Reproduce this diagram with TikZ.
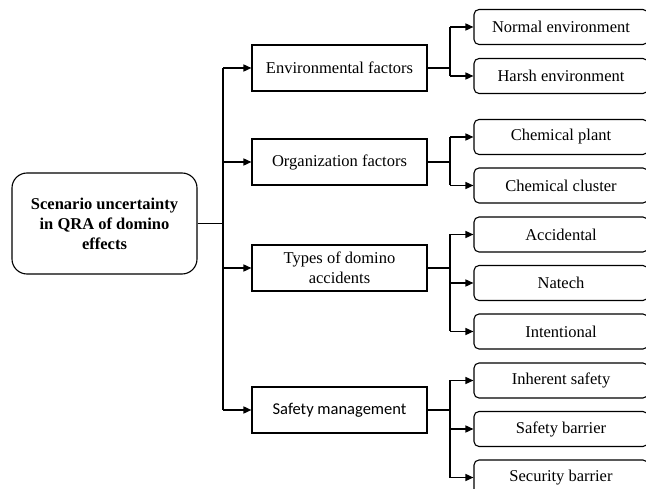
\documentclass[tikz,border=0pt]{standalone}
\usepackage{fontspec}
\setmainfont{Liberation Serif}
\newfontfamily\calibri{Carlito}
\usetikzlibrary{arrows.meta}
\tikzstyle{rootbox}=[draw,rounded corners=15pt,line width=1.1pt,minimum width=185pt,minimum height=101pt,align=center,font=\fontsize{16.5}{20}\selectfont\bfseries]
\tikzstyle{factor}=[draw,line width=1.1pt,minimum width=175pt,minimum height=46pt,align=center,font=\fontsize{16.5}{20}\selectfont]
\tikzstyle{leaf}=[draw,rounded corners=5pt,line width=1.1pt,minimum width=174pt,minimum height=35pt,font=\fontsize{16.5}{20}\selectfont]
\tikzstyle{link}=[line width=1.5pt]
\tikzstyle{arr}=[line width=1.5pt,-{Triangle[length=8pt,width=7pt]}]

\begin{document}
\begin{tikzpicture}[x=1pt,y=-1pt]
    \useasboundingbox (0,0) rectangle (646,489);
    \node (root) [rootbox] at (104.5,223.5) {Scenario uncertainty\\in QRA of domino\\effects};

\node (env) [factor] at (339.5,68) {Environmental factors};
\node (org) [factor] at (339.5,162) {Organization factors};
\node (typ) [factor] at (339.5,268) {Types of domino\\accidents};
\node (man) [factor,font=\fontsize{16.5}{20}\selectfont\calibri] at (339.5,410) {Safety management};

\node (n0) [leaf] at (561,27) {Normal environment};
\node (n1) [leaf] at (561,76) {Harsh environment};
\node (n2) [leaf] at (561,137) {Chemical plant};
\node (n3) [leaf] at (561,185.5) {Chemical cluster};
\node (n4) [leaf] at (561,234.5) {Accidental};
\node (n5) [leaf] at (561,283) {Natech};
\node (n6) [leaf] at (561,331.5) {Intentional};
\node (n7) [leaf] at (561,380.5) {Inherent safety};
\node (n8) [leaf] at (561,429) {Safety barrier};
\node (n9) [leaf] at (561,477.5) {Security barrier};

\coordinate (s0) at (223,0);
\coordinate (s1) at (450,0);

\draw[link] (root.east) -- (root.east -| s0);
\draw[link] (s0 |- env) -- (s0 |- man);
\foreach \f in {env,org,typ,man}
    \draw[arr] (s0 |- \f) -- (\f.west);

\draw[link] (env.east) -- (env.east -| s1);
\draw[link] (s1 |- n0) -- (s1 |- n1);
\draw[link] (org.east) -- (org.east -| s1);
\draw[link] (s1 |- n2) -- (s1 |- n3);
\draw[link] (typ.east) -- (typ.east -| s1);
\draw[link] (s1 |- n4) -- (s1 |- n6);
\draw[link] (man.east) -- (man.east -| s1);
\draw[link] (s1 |- n7) -- (s1 |- n9);
\foreach \l in {n0,n1,n2,n3,n4,n5,n6,n7,n8,n9}
    \draw[arr] (s1 |- \l) -- (\l.west);
\end{tikzpicture}
\end{document}
